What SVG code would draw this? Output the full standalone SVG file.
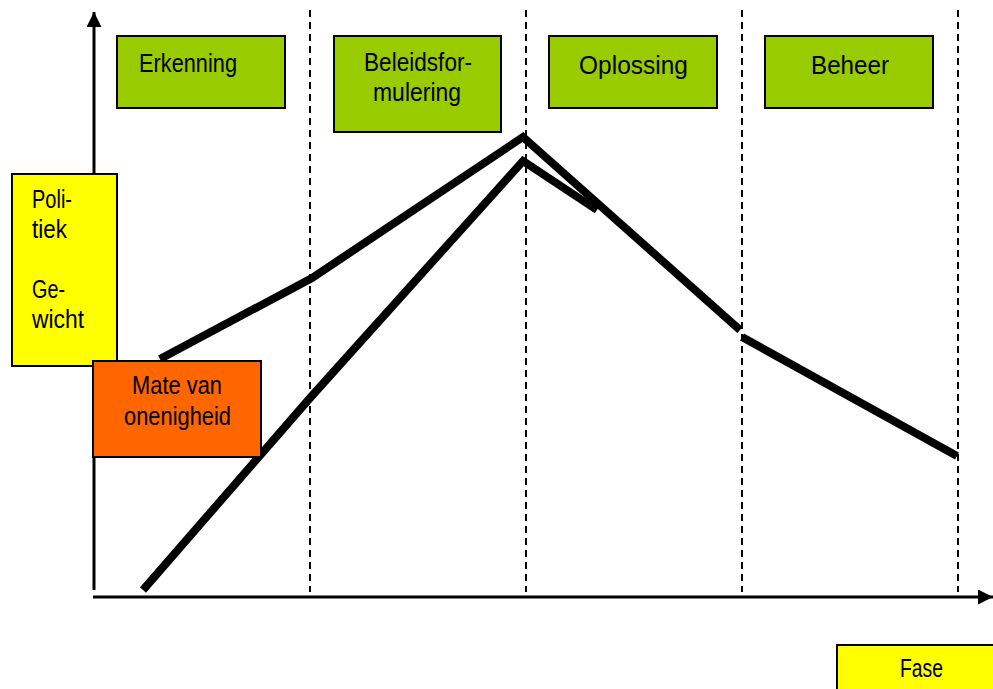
<svg xmlns="http://www.w3.org/2000/svg" width="993" height="689" viewBox="0 0 993 689">
<style>
.box{stroke:#000;stroke-width:2}
.green{fill:#99cc00}
.yellow{fill:#ffff00}
.orange{fill:#ff6600}
.t{font-family:"Liberation Sans",Arial,sans-serif;font-size:25px;fill:#000}
.dash{stroke:#000;stroke-width:2;stroke-dasharray:7,5;fill:none}
.thick{stroke:#000;stroke-width:8;fill:none;stroke-linejoin:miter}
.axis{stroke:#000;stroke-width:3;fill:none}
</style>
<defs>
<marker id="arr" viewBox="0 0 10 10" refX="10" refY="5" markerWidth="5.5" markerHeight="5" orient="auto" markerUnits="strokeWidth">
<path d="M0,0 L10,5 L0,10 Z" fill="#000"/>
</marker>
</defs>
<g id="connectors">
<line class="dash" x1="310" y1="10" x2="310" y2="592"/>
<line class="dash" x1="526" y1="10" x2="526" y2="592"/>
<line class="dash" x1="742" y1="10" x2="742" y2="592"/>
<line class="dash" x1="958" y1="10" x2="958" y2="592"/>
<line class="axis" x1="94" y1="590" x2="94" y2="12" marker-end="url(#arr)"/>
<line class="axis" x1="93" y1="597" x2="993" y2="597" marker-end="url(#arr)"/>
<polyline class="thick" points="143,590 310,398 523,161 597,210"/>
<polyline class="thick" points="160,359 312,278 523,137 740,330"/>
<line class="thick" x1="742" y1="337" x2="957" y2="456"/>
</g>
<g id="erkenning">
<rect class="box green" x="117" y="36" width="168" height="72"/>
<text class="t" x="139" y="72" textLength="98" lengthAdjust="spacingAndGlyphs">Erkenning</text>
</g>
<g id="beleidsformulering">
<rect class="box green" x="334" y="36" width="167" height="96"/>
<text class="t" x="364" y="71" textLength="108" lengthAdjust="spacingAndGlyphs">Beleidsfor-</text>
<text class="t" x="373" y="101" textLength="88" lengthAdjust="spacingAndGlyphs">mulering</text>
</g>
<g id="oplossing">
<rect class="box green" x="549" y="36" width="168" height="72"/>
<text class="t" x="579" y="74" textLength="109" lengthAdjust="spacingAndGlyphs">Oplossing</text>
</g>
<g id="beheer">
<rect class="box green" x="765" y="36" width="168" height="72"/>
<text class="t" x="811" y="74" textLength="78" lengthAdjust="spacingAndGlyphs">Beheer</text>
</g>
<g id="politiek">
<rect class="box yellow" x="12" y="174" width="105" height="192"/>
<text class="t" x="32" y="208" textLength="40" lengthAdjust="spacingAndGlyphs">Poli-</text>
<text class="t" x="32" y="238" textLength="35" lengthAdjust="spacingAndGlyphs">tiek</text>
<text class="t" x="32" y="298" textLength="33" lengthAdjust="spacingAndGlyphs">Ge-</text>
<text class="t" x="32" y="328" textLength="52" lengthAdjust="spacingAndGlyphs">wicht</text>
</g>
<g id="mate">
<rect class="box orange" x="93" y="361" width="168" height="96"/>
<text class="t" x="132" y="394" textLength="90" lengthAdjust="spacingAndGlyphs">Mate van</text>
<text class="t" x="124" y="425" textLength="107" lengthAdjust="spacingAndGlyphs">onenigheid</text>
</g>
<g id="fase">
<rect class="box yellow" x="837" y="645" width="160" height="50"/>
<text class="t" x="900" y="677" textLength="43" lengthAdjust="spacingAndGlyphs">Fase</text>
</g>
</svg>
